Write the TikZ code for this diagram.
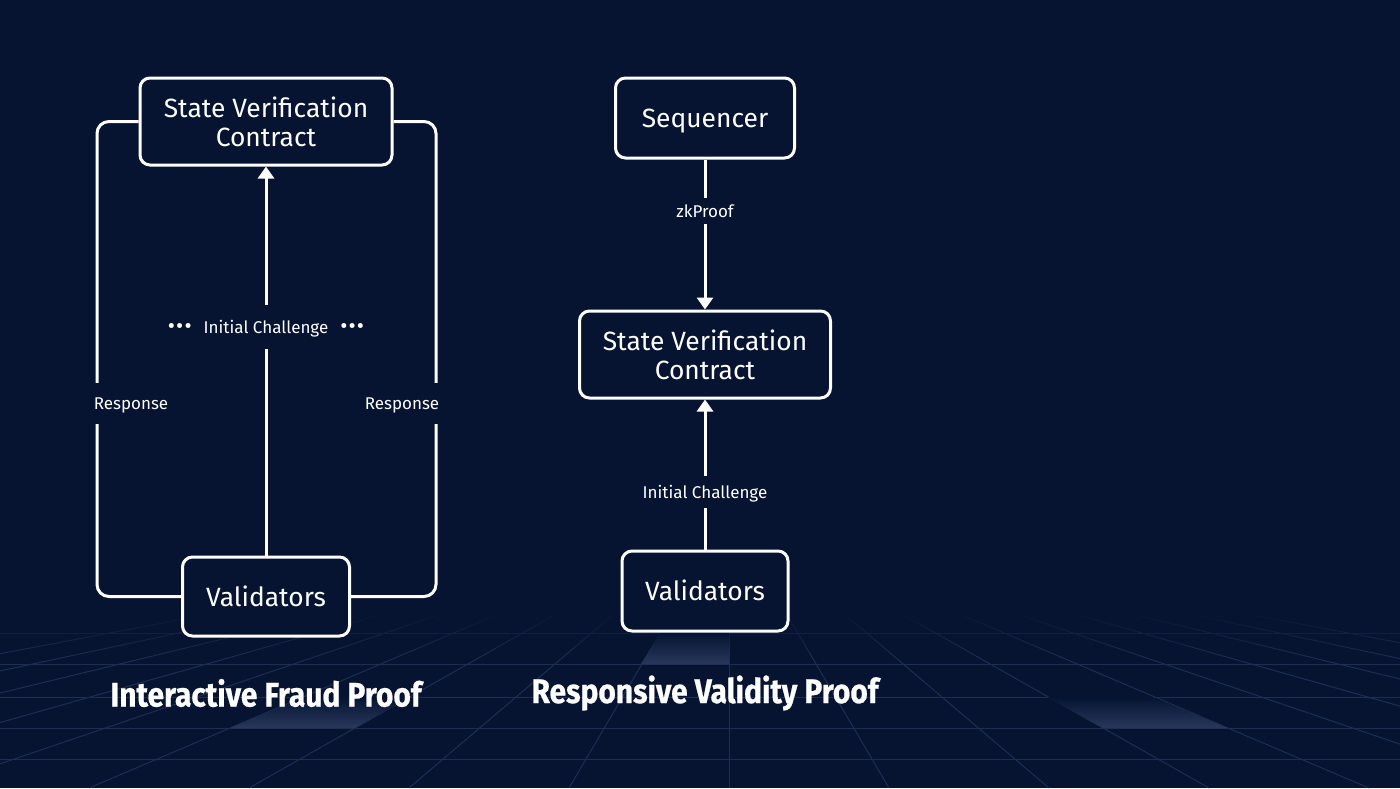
\documentclass[tikz,border=0pt]{standalone}
\usepackage{fontspec}
\setmainfont{Fira Sans}[BoldFeatures={FakeBold=0.7}]
\usepackage{graphicx}
\usetikzlibrary{arrows.meta, positioning}

\definecolor{navy}{RGB}{6,20,50}
\definecolor{gridline}{RGB}{30,46,82}
\definecolor{glow}{RGB}{40,56,92}

\tikzset{
  box/.style={draw=white, line width=1.5pt, rounded corners=5pt, fill=navy, text=white, align=center, font=\fontsize{13.2}{14.5}\selectfont},
  single/.style={text height=9.5pt, text depth=0pt},
  wire/.style={draw=white, line width=1.5pt},
  flow/.style={wire, -{Triangle[width=8pt,length=6pt]}},
  lbl/.style={fill=navy, text=white, font=\fontsize{8.5}{10}\selectfont, text height=7.5pt, text depth=1pt, inner xsep=1pt},
  heading/.style={text=white, font=\fontsize{17}{20}\selectfont\bfseries},
}
\newcommand{\dotrow}{{\fontsize{11}{10}\selectfont •\kern0.6pt•\kern0.6pt•}}

\begin{document}
\begin{tikzpicture}[x=0.5pt, y=-0.5pt]  % pixel-like units, y downwards
    \fill[navy] (0,0) rectangle (1400,788);  % background
    \useasboundingbox (0,0) rectangle (1400,788);

    % floor grid
    \begin{scope}
        \clip (0,612) rectangle (1400,788);
        \foreach \k in {-9,...,9} {  % lines towards the vanishing point
            \draw[gridline, line width=0.5pt] ({729+\k*160},788) -- (729,516);
        }
    \end{scope}
    \foreach \y in {633,664,697,728,759} {
        \draw[gridline, line width=0.5pt] (0,\y) -- (1400,\y);
    }
    \foreach \i in {0,...,11} {  % fade the far end of the floor
        \fill[navy, opacity={0.92-\i*0.08}] (0,{612+\i*4}) rectangle (1400,{616+\i*4});
    }
    \shade[top color=navy, bottom color=glow] (305,697) -- (411,697) -- (355,728) -- (230,728) -- cycle;
    \shade[top color=navy, bottom color=glow] (1047,697) -- (1153,697) -- (1228,728) -- (1103,728) -- cycle;
    \shade[top color=navy, bottom color=glow] (660,633) -- (729,633) -- (729,664) -- (641,664) -- cycle;

    % Interactive Fraud Proof
    \node[box, minimum width=126pt, minimum height=43.5pt] (lsvc) at (266,121.5) {State Verification\\Contract};
    \node[box, single, minimum width=83.5pt, minimum height=39.5pt] (lval) at (266,596.5) {Validators};
    \coordinate (lleft) at (97,360);
    \coordinate (lright) at (436,360);
    \draw[wire, rounded corners=6pt] (lsvc.west) -| (lleft) |- (lval.west);
    \draw[wire, rounded corners=6pt] (lsvc.east) -| (lright) |- (lval.east);
    \node[lbl, inner ysep=6pt] (lresp) at (131,403) {Response};
    \node[lbl, inner ysep=6pt] (rresp) at (402,403) {Response};
    \draw[flow] (lval) -- node[lbl, pos=0.587, inner ysep=6.75pt] (lchal) {\dotrow\hspace{6pt}Initial Challenge\hspace{6pt}\dotrow} (lsvc);
    \node[heading] (tfraud) at (266,693) {\scalebox{0.88}[1]{Interactive Fraud Proof}};

    % Responsive Validity Proof
    \node[box, single, minimum width=89.5pt, minimum height=40pt] (seq) at (705,118) {Sequencer};
    \node[box, minimum width=125.5pt, minimum height=43.5pt] (rsvc) at (705,354.5) {State Verification\\Contract};
    \node[box, single, minimum width=83pt, minimum height=40pt] (rval) at (705,591) {Validators};
    \draw[flow] (seq) -- node[lbl, pos=0.346, inner ysep=2.25pt] (zk) {zkProof} (rsvc);
    \draw[flow] (rval) -- node[lbl, pos=0.386, inner ysep=3.75pt] (rchal) {Initial Challenge} (rsvc);
    \node[heading] (tvalid) at (705,693) {\scalebox{0.88}[1]{Responsive Validity Proof}};
\end{tikzpicture}
\end{document}
